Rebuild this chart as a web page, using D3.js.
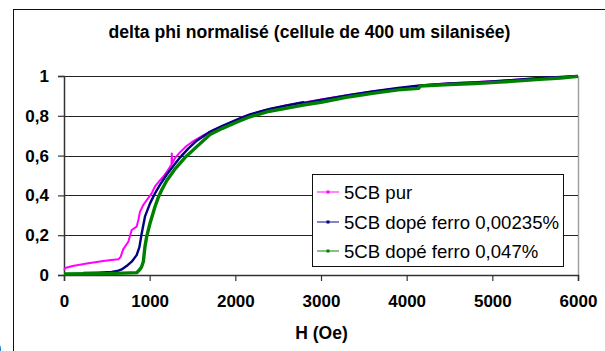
<!DOCTYPE html>
<html>
<head>
<meta charset="utf-8">
<script src="https://cdn.jsdelivr.net/npm/d3@7"></script>
<style>
  html, body { margin: 0; padding: 0; background: #fff; }
  svg { display: block; font-family: "Liberation Sans", Arial, sans-serif; }
</style>
</head>
<body>
<svg id="chart" width="605" height="351"></svg>
<script>
// Field H (Oe) and normalised delta phi for each cell filling
const hPur = [0, 15, 100, 284, 478, 634, 660, 692, 751, 790, 848, 870, 887, 926, 1023, 1062, 1110, 1160, 1210, 1255, 1258, 1262, 1300, 1350, 1430, 1520, 1620, 1750, 1900, 2100, 2300, 2600, 2800, 3000, 3300, 3600, 4000, 4200, 4500, 5000, 5500, 6000];
const vPur = [0.025, 0.035, 0.045, 0.059, 0.072, 0.079, 0.09, 0.13, 0.167, 0.226, 0.243, 0.28, 0.318, 0.352, 0.41, 0.445, 0.47, 0.495, 0.525, 0.555, 0.61, 0.56, 0.59, 0.615, 0.648, 0.675, 0.7, 0.73, 0.758, 0.797, 0.823, 0.853, 0.867, 0.882, 0.903, 0.922, 0.944, 0.954, 0.963, 0.974, 0.988, 1.0];

const hFerro1 = [225, 400, 556, 620, 673, 730, 790, 848, 880, 907, 945, 1004, 1062, 1130, 1200, 1280, 1354, 1450, 1550, 1704, 1850, 2000, 2171, 2400, 2600, 2793, 2800, 3000, 3338, 3600, 3900, 4156, 4500, 4800, 5090, 5557, 5800, 6000];
const vFerro1 = [0.01, 0.012, 0.015, 0.02, 0.028, 0.045, 0.067, 0.1, 0.14, 0.209, 0.293, 0.36, 0.41, 0.46, 0.505, 0.55, 0.59, 0.635, 0.675, 0.72, 0.75, 0.777, 0.807, 0.835, 0.852, 0.868, 0.864, 0.88, 0.905, 0.922, 0.94, 0.953, 0.962, 0.968, 0.975, 0.99, 0.995, 1.0];

const hFerro2 = [0, 300, 600, 850, 887, 905, 926, 945, 965, 1004, 1062, 1101, 1140, 1200, 1300, 1412, 1500, 1704, 1850, 2000, 2171, 2400, 2793, 3000, 3338, 3600, 3900, 4140, 4160, 4500, 4800, 5090, 5557, 5800, 6000];
const vFerro2 = [0.005, 0.006, 0.008, 0.012, 0.029, 0.04, 0.067, 0.142, 0.193, 0.26, 0.343, 0.39, 0.427, 0.475, 0.535, 0.59, 0.625, 0.706, 0.737, 0.765, 0.795, 0.823, 0.854, 0.868, 0.896, 0.913, 0.93, 0.938, 0.95, 0.957, 0.962, 0.969, 0.983, 0.99, 0.998];

const seriesNames = ["5CB pur", "5CB dopé ferro 0,00235%", "5CB dopé ferro 0,047%"];
const seriesColors = ["#ff00ff", "#000080", "#008000"];
const seriesWidths = [2, 2.4, 3.4];

const xTicks = [0, 1000, 2000, 3000, 4000, 5000, 6000];
const yTicks = [0, 0.2, 0.4, 0.6, 0.8, 1];
const yTickLabels = ["0", "0,2", "0,4", "0,6", "0,8", "1"];

const titleText = "delta phi normalisé (cellule de 400 um silanisée)";
const xTitle = "H (Oe)";

const svg = d3.select("#chart");
const plot = { left: 64, right: 578, top: 76, bottom: 275 };

const x = d3.scaleLinear().domain([0, 6000]).range([plot.left, plot.right]);
const y = d3.scaleLinear().domain([0, 1]).range([plot.bottom, plot.top]);

// chart area frame (extends past the visible window on the right and bottom)
svg.append("rect")
  .attr("x", 13.5).attr("y", 9.5)
  .attr("width", 640).attr("height", 380)
  .attr("fill", "#fff").attr("stroke", "#111").attr("stroke-width", 1);

// title
svg.append("text")
  .attr("x", 309.5).attr("y", 37.5)
  .attr("text-anchor", "middle")
  .attr("font-size", 17.6).attr("font-weight", "bold")
  .attr("fill", "#000")
  .text(titleText);

// plot area border (grey) on the right
svg.append("line")
  .attr("x1", plot.right + 0.5).attr("x2", plot.right + 0.5)
  .attr("y1", plot.top).attr("y2", plot.bottom)
  .attr("stroke", "#a0a0a0").attr("stroke-width", 1.5);

// horizontal grid
svg.append("g")
  .selectAll("line")
  .data(yTicks.filter(d => d > 0))
  .join("line")
  .attr("x1", plot.left).attr("x2", plot.right)
  .attr("y1", d => Math.round(y(d)) + 0.5).attr("y2", d => Math.round(y(d)) + 0.5)
  .attr("stroke", "#222").attr("stroke-width", 1);

// y axis
const yAxis = svg.append("g")
  .attr("transform", `translate(${plot.left},0)`)
  .call(d3.axisLeft(y).tickValues(yTicks).tickSize(6).tickPadding(9)
    .tickFormat((d, i) => yTickLabels[i]));
yAxis.select(".domain").attr("stroke", "#333").attr("stroke-width", 1.5);
yAxis.selectAll(".tick line").attr("stroke", "#333").attr("stroke-width", 1.2);
yAxis.selectAll("text")
  .attr("font-size", 17).attr("font-weight", "bold").attr("fill", "#000")
  .attr("font-family", "Liberation Sans, Arial, sans-serif");

// x axis
const xAxis = svg.append("g")
  .attr("transform", `translate(0,${plot.bottom})`)
  .call(d3.axisBottom(x).tickValues(xTicks).tickSize(6).tickPadding(14)
    .tickFormat(d3.format("d")));
xAxis.select(".domain").attr("stroke", "#333").attr("stroke-width", 1.5);
xAxis.selectAll(".tick line").attr("stroke", "#333").attr("stroke-width", 1.2);
xAxis.selectAll("text")
  .attr("font-size", 17).attr("font-weight", "bold").attr("fill", "#000")
  .attr("font-family", "Liberation Sans, Arial, sans-serif");

// x axis title
svg.append("text")
  .attr("x", 321.5).attr("y", 338.5)
  .attr("text-anchor", "middle")
  .attr("font-size", 17.5).attr("font-weight", "bold")
  .text(xTitle);

// fragment of a panel label at the lower-left corner
svg.append("text")
  .attr("x", -4).attr("y", 354)
  .attr("font-size", 16).attr("font-weight", "bold")
  .text(")");

// curves
const seriesData = [
  d3.zip(hPur, vPur),
  d3.zip(hFerro1, vFerro1),
  d3.zip(hFerro2, vFerro2)
];
const line = d3.line().x(d => x(d[0])).y(d => y(d[1]));

svg.append("g")
  .selectAll("path")
  .data(seriesData)
  .join("path")
  .attr("d", line)
  .attr("fill", "none")
  .attr("stroke", (d, i) => seriesColors[i])
  .attr("stroke-width", (d, i) => seriesWidths[i])
  .attr("stroke-linejoin", "round");

// legend
const legend = svg.append("g");
legend.append("rect")
  .attr("x", 312.5).attr("y", 174.5)
  .attr("width", 251).attr("height", 92)
  .attr("fill", "#fff").attr("stroke", "#111").attr("stroke-width", 1);

const rowY = [192, 222, 251];
const rows = legend.selectAll("g.row")
  .data(seriesNames)
  .join("g")
  .attr("class", "row")
  .attr("transform", (d, i) => `translate(0,${rowY[i]})`);
rows.append("line")
  .attr("x1", 317).attr("x2", 339).attr("y1", 0).attr("y2", 0)
  .attr("stroke", (d, i) => seriesColors[i]).attr("stroke-width", 1.2)
  .attr("opacity", 0.8);
rows.append("rect")
  .attr("x", 326.5).attr("y", -1.5).attr("width", 3).attr("height", 3)
  .attr("fill", (d, i) => seriesColors[i]);
rows.append("text")
  .attr("x", 344).attr("y", 0).attr("dy", "0.36em")
  .attr("font-size", 18.6).attr("fill", "#000")
  .text(d => d);
</script>
</body>
</html>
